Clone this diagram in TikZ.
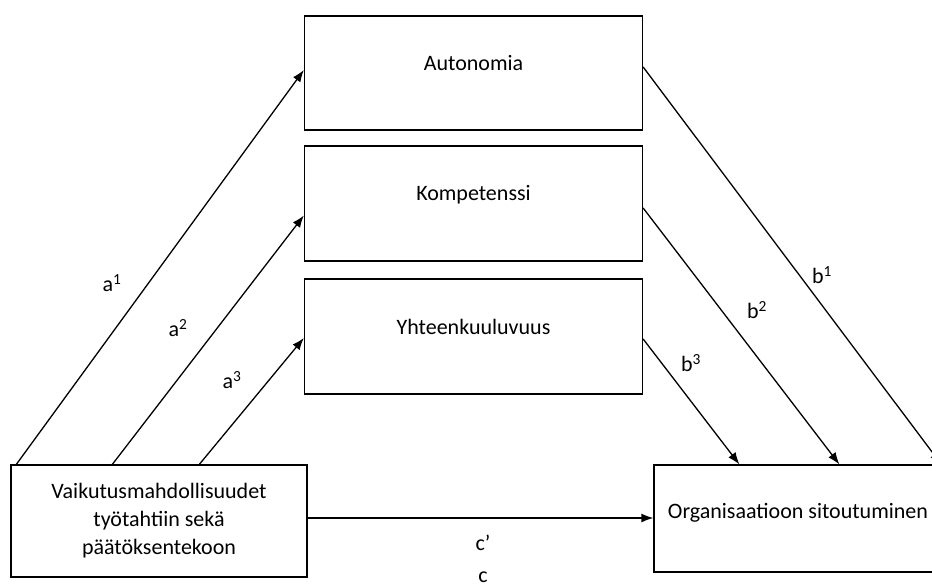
\documentclass[tikz,border=0pt]{standalone}
\usepackage{fontspec}
\setmainfont{Carlito}
\usetikzlibrary{calc,arrows.meta}
\tikzset{
  box/.style={draw,line width=1.3pt,inner sep=0pt,align=center},
  link/.style={-{Latex[length=12pt,width=9pt]},line width=1.3pt},
  lbl/.style={inner sep=0pt}
}

\begin{document}
\begin{tikzpicture}[x=1pt,y=-1pt,font=\fontsize{22}{28}\selectfont]
\useasboundingbox (0,0) rectangle (932,587);

% Mediators
\node[box,minimum width=338pt,minimum height=114pt,
  label={[yshift=10pt]center:Autonomia}] (auto) at (473.5,73) {};
\node[box,minimum width=338pt,minimum height=115pt,
  label={[yshift=9pt]center:Kompetenssi}] (komp) at (473.5,203.5) {};
\node[box,minimum width=338pt,minimum height=115pt,
  label={[yshift=10pt]center:Yhteenkuuluvuus}] (yht) at (473.5,336.5) {};

% Input and outcome
\node[box,minimum width=296pt,minimum height=112pt] (vaik) at (159,521)
  {Vaikutusmahdollisuudet\\työtahtiin sekä\\päätöksentekoon};
\node[box,minimum width=288pt,minimum height=107pt,
  label={[yshift=6pt]center:Organisaatioon sitoutuminen}] (org) at (798,518.5) {};

% a paths
\draw[link] ($(vaik.north west)+(6,0)$) -- ($(auto.west)+(0,-3)$);
\draw[link] ($(vaik.north west)+(102,0)$) -- ($(komp.west)+(0,12)$);
\draw[link] ($(vaik.north west)+(189,0)$) -- ($(yht.west)+(0,1.5)$);
\node[lbl] (a1) at (112,283) {a\textsuperscript{1}};
\node[lbl] (a2) at (178,328) {a\textsuperscript{2}};
\node[lbl] (a3) at (232,380) {a\textsuperscript{3}};

% b paths
\draw[link] ($(auto.east)+(0,-6)$) -- ($(org.north west)+(288,0)$);
\draw[link] ($(komp.east)+(0,4.5)$) -- ($(org.north west)+(186,0)$);
\draw[link] ($(yht.east)+(0,2.5)$) -- ($(org.north west)+(86,0)$);
\node[lbl] (b1) at (822,275) {b\textsuperscript{1}};
\node[lbl] (b2) at (757,310) {b\textsuperscript{2}};
\node[lbl] (b3) at (691,363) {b\textsuperscript{3}};

% c path
\coordinate (cstart) at ($(vaik.east)+(0,-3)$);
\draw[link] (cstart) -- (cstart -| org.west);
\node[lbl] (cp) at (483,543) {c’};
\node[lbl] (c) at (483,577) {c};
\end{tikzpicture}
\end{document}
